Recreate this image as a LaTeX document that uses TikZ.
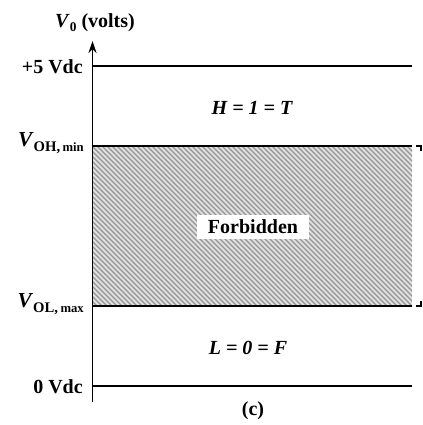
\documentclass[tikz,border=0pt]{standalone}
\usepackage{fontspec}
\setmainfont{Liberation Serif}
\usetikzlibrary{arrows.meta}
\newcommand{\fsz}[1]{\fontsize{#1}{#1}\selectfont}
\begin{document}
\begin{tikzpicture}[x=0.75pt,y=-0.75pt,
  level/.style={line width=1.5pt},
  lbl/.style={font=\bfseries\fsz{15}, inner sep=0pt},
  zone/.style={font=\bfseries\itshape\fsz{15}, inner sep=0pt},
  hatch/.style={black!42, line width=1pt}]
\useasboundingbox (0,0) rectangle (423,425);
% hatching
\coordinate (hz1) at (92,146); \coordinate (hz2) at (412,306);
\fill[black!12] (hz1) rectangle (hz2);
\begin{scope}
\clip (hz1) rectangle (hz2);
\foreach \i in {-35,...,66} {
  \draw[hatch] ({92+\i*5},146) -- ({92+\i*5+165},311);
}
\end{scope}
% axis
\coordinate (ab) at (92.5,402);
\coordinate (at) at (92.5,41);
\draw[line width=1.3pt,-{Stealth[length=9pt,width=6pt]}] (ab) -- (at);
% level lines
\coordinate (l5a) at (92.5,66); \coordinate (l5b) at (412,66);
\coordinate (lha) at (92.5,146); \coordinate (lhb) at (412,146);
\coordinate (lla) at (92.5,306); \coordinate (llb) at (412,306);
\coordinate (l0a) at (92.5,386); \coordinate (l0b) at (412,386);
\draw[level] (l5a) -- (l5b);
\draw[level] (lha) -- (lhb);
\draw[level] (lla) -- (llb);
\draw[level] (l0a) -- (l0b);
% right bracket ticks
\coordinate (bt1) at (416,146); \coordinate (bt2) at (421,146); \coordinate (bt3) at (421,151);
\coordinate (bb1) at (416,306); \coordinate (bb2) at (421,306); \coordinate (bb3) at (421,301);
\draw[line width=0.8pt] (bt1) -- (bt2) -- (bt3);
\draw[line width=0.8pt] (bb1) -- (bb2) -- (bb3);
% labels
\node[lbl] (yl) at (95,23) {\textit{V}\raisebox{-2.5pt}{\fsz{10}0} (volts)};
\node[lbl, anchor=east] (p5) at (83,67) {+5 Vdc};
\node[lbl, anchor=east] (voh) at (84,143) {\fsz{16}\textit{V}\raisebox{-4pt}{\fsz{11}OH,\,\fsz{9.5}min}};
\node[lbl, anchor=east] (vol) at (84,304) {\fsz{16}\textit{V}\raisebox{-4pt}{\fsz{11}OL,\,\fsz{9.5}max}};
\node[lbl, anchor=east] (z0) at (83,387) {0 Vdc};
\node[zone] (hz) at (252,108) {H = 1 = T};
\node[zone] (lz) at (248,348) {L = 0 = F};
\node[font=\bfseries\fsz{15}, fill=white, inner xsep=8pt, inner ysep=4pt] (fb) at (253,227) {Forbidden};
\node[lbl] (cap) at (253,411) {(c)};
\end{tikzpicture}
\end{document}
